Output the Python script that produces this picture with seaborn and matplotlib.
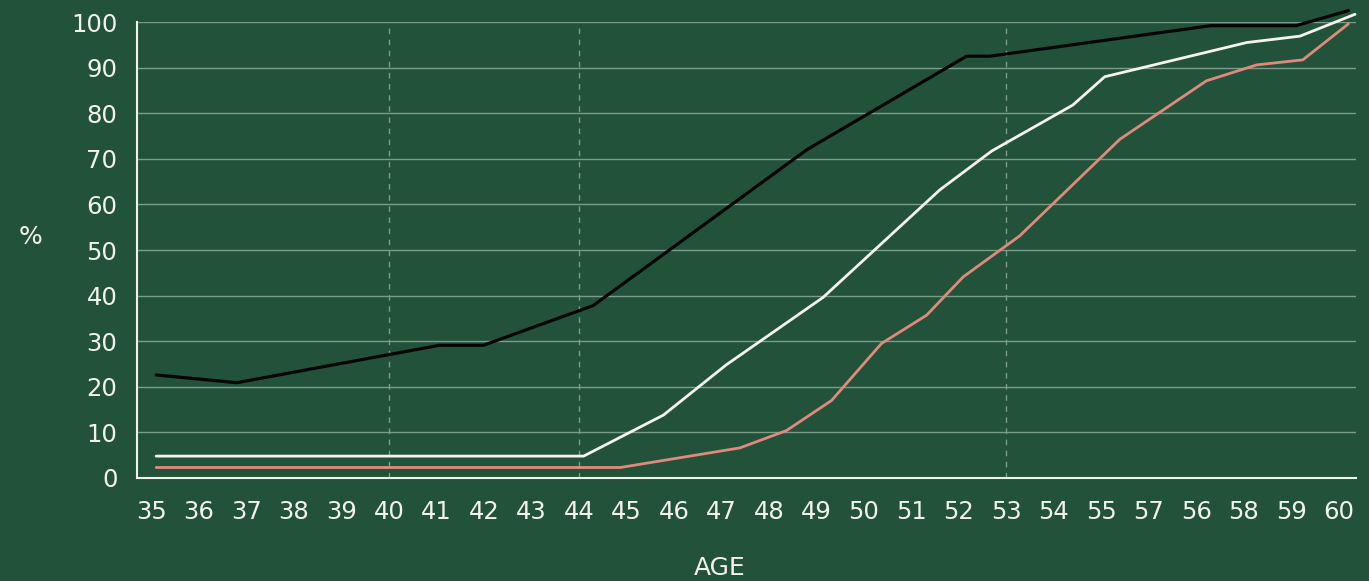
import numpy as np
import pandas as pd
import seaborn as sns
import matplotlib.pyplot as plt

# category labels on the x axis (as printed, 57 before 56)
age_labels = ['35', '36', '37', '38', '39', '40', '41', '42', '43', '44', '45', '46', '47',
              '48', '49', '50', '51', '52', '53', '54', '55', '57', '56', '58', '59', '60']

# series vertices: x is the position along the category axis, y in %
top_x = [0.1, 1.8, 6.06, 6.99, 9.3, 13.8, 17.16, 17.65, 22.3, 24.1, 25.2]
top_y = [22.6, 20.9, 29.1, 29.1, 37.8, 72.0, 92.5, 92.5, 99.2, 99.2, 102.5]

mid_x = [0.1, 9.1, 10.78, 12.1, 14.14, 16.6, 17.69, 19.4, 20.07, 23.06, 24.18, 25.34]
mid_y = [4.8, 4.8, 13.8, 24.8, 39.6, 63.2, 71.7, 81.8, 88.0, 95.5, 96.9, 101.7]

low_x = [0.1, 9.87, 12.39, 13.37, 14.32, 15.37, 16.32, 17.09, 18.28, 20.39, 22.21, 23.27, 24.24, 25.2]
low_y = [2.3, 2.3, 6.6, 10.4, 17.0, 29.5, 35.7, 44.1, 53.1, 74.3, 87.1, 90.6, 91.7, 99.6]

# dashed markers at ages 40, 44, 53
marked = ['40', '44', '53']

bg = '#23523a'
txt = '#f2f2ea'

df = pd.concat([
    pd.DataFrame({'pos': top_x, 'pct': top_y, 'group': 'top'}),
    pd.DataFrame({'pos': mid_x, 'pct': mid_y, 'group': 'mid'}),
    pd.DataFrame({'pos': low_x, 'pct': low_y, 'group': 'low'}),
])

sns.set_style('white')
plt.rcParams['font.family'] = ['DejaVu Sans']

fig = plt.figure(figsize=(13.69, 5.81), dpi=100, facecolor=bg)
ax = fig.add_axes([0.1, 0.1773, 0.8905, 0.7848])
ax.set_facecolor(bg)

# grid first so lines sit above it
for v in range(10, 101, 10):
    ax.axhline(v, color='#7a9c89', lw=1, zorder=1)
for m in marked:
    ax.axvline(age_labels.index(m), color='#7a9c89', lw=1, ls=(0, (4, 4)), zorder=1)

sns.lineplot(data=df, x='pos', y='pct', hue='group', estimator=None,
             palette={'top': '#050505', 'mid': '#f4f4ec', 'low': '#e08a7c'},
             hue_order=['low', 'mid', 'top'], legend=False, ax=ax,
             lw=2.0, clip_on=False, zorder=3)
for ln in ax.get_lines()[-3:]:
    if ln.get_color() == '#050505':
        ln.set_linewidth(2.3)

ax.set_xlim(-0.305, 25.36)
ax.set_ylim(0, 100)
ax.set_xticks(range(len(age_labels)))
ax.set_xticklabels(age_labels)
ax.set_yticks(range(0, 101, 10))
ax.tick_params(axis='both', length=0, labelsize=17.5, colors=txt)
ax.tick_params(axis='x', pad=16)
ax.tick_params(axis='y', pad=14)
ax.set_xlabel('')
ax.set_ylabel('')

for s in ['top', 'right']:
    ax.spines[s].set_visible(False)
for s in ['left', 'bottom']:
    ax.spines[s].set_color(txt)
    ax.spines[s].set_linewidth(1.5)
    ax.spines[s].set_zorder(4)

fig.text(30 / 1369, 1 - 237 / 581, '%', color=txt, fontsize=18, ha='center', va='center')
fig.text(720 / 1369, 1 - 568 / 581, 'AGE', color=txt, fontsize=18, ha='center', va='center')

fig.savefig('out.png', dpi=100, facecolor=bg)
